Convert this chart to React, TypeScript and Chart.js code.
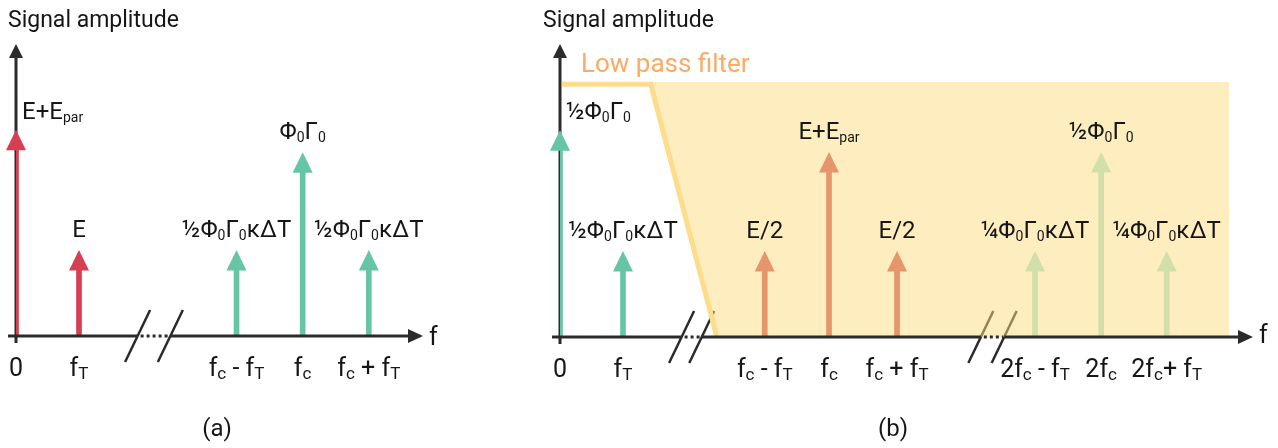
import React, { useEffect, useRef } from "react";
import { Chart, registerables } from "chart.js";

Chart.register(...registerables);

const FONT = "Roboto, 'Noto Sans', sans-serif";
const AXIS = "#2b2b2b";
const TEXT = "#161616";
const RED = "#d63f52";
const GREEN = "#66c5a5";
const ORANGE = "#e5966a";
const PALE = "#d3dfaa";
const FILTER_LINE = "#fddc8c";
const FILTER_FILL = "rgba(251,219,127,0.5)";
const FILTER_TEXT = "#fcaa66";

// ---------- panel (a) ----------
const aRedFreq = [0, 1];
const aRedAmp = [2.82, 1.0];
const aGreenFreq = [3.5, 4.55, 5.6];
const aGreenAmp = [1.0, 2.48, 1.0];
const aTickFreq = [0, 1, 3.5, 4.55, 5.6];
const aTickLabels = ["0", "f_{T}", "f_{c} - f_{T}", "f_{c}", "f_{c} + f_{T}"];
const aPeakLabels = ["E+E_{par}", "E", "½Φ_{0}Γ_{0}κΔT", "Φ_{0}Γ_{0}", "½Φ_{0}Γ_{0}κΔT"];
const aBreaks = [[1.93, 2.45]];

// ---------- panel (b) ----------
const bGreenFreq = [0, 1];
const bGreenAmp = [2.83, 1.0];
const bOrangeFreq = [3.25, 4.27, 5.35];
const bOrangeAmp = [1.0, 2.5, 1.0];
const bPaleFreq = [7.54, 8.59, 9.63];
const bPaleAmp = [1.0, 2.5, 1.0];
const bTickFreq = [0, 1, 3.25, 4.27, 5.35, 7.54, 8.59, 9.63];
const bTickLabels = ["0", "f_{T}", "f_{c} - f_{T}", "f_{c}", "f_{c} + f_{T}", "2f_{c} - f_{T}", "2f_{c}", "2f_{c}+ f_{T}"];
const bPeakLabels = ["½Φ_{0}Γ_{0}", "½Φ_{0}Γ_{0}κΔT", "E/2", "E+E_{par}", "E/2", "¼Φ_{0}Γ_{0}κΔT", "½Φ_{0}Γ_{0}", "¼Φ_{0}Γ_{0}κΔT"];
const bBreaks = [[1.93, 2.25], [6.68, 7.05]];
const filterLineFreq = [0.03, 1.44, 2.49];
const filterLineAmp = [3.83, 3.83, 0];
const filterFillFreq = [1.44, 2.49, 10.62];
const filterFillAmp = [3.864, 0, 0];
const filterLevel = 3.864;

type Seg = { t: string; sub: boolean; w?: number };

function parseRich(s: string): Seg[] {
  const out: Seg[] = [];
  const re = /_\{([^}]*)\}/g;
  let last = 0;
  let m: RegExpExecArray | null;
  while ((m = re.exec(s))) {
    if (m.index > last) out.push({ t: s.slice(last, m.index), sub: false });
    out.push({ t: m[1], sub: true });
    last = re.lastIndex;
  }
  if (last < s.length) out.push({ t: s.slice(last), sub: false });
  return out;
}

function drawRich(ctx: CanvasRenderingContext2D, s: string, x: number, y: number, align: string, size: number, color: string, subRatio = 0.62) {
  const segs = parseRich(s);
  const sub = Math.round(size * subRatio);
  let w = 0;
  for (const sg of segs) {
    ctx.font = `${sg.sub ? sub : size}px ${FONT}`;
    sg.w = ctx.measureText(sg.t).width;
    w += sg.w;
  }
  let cx = align === "center" ? x - w / 2 : align === "right" ? x - w : x;
  ctx.fillStyle = color;
  ctx.textAlign = "left";
  ctx.textBaseline = "alphabetic";
  for (const sg of segs) {
    ctx.font = `${sg.sub ? sub : size}px ${FONT}`;
    ctx.fillText(sg.t, cx, sg.sub ? y + size * 0.12 : y);
    cx += sg.w || 0;
  }
}

function pts(xs: number[], ys: number[]) {
  return xs.map((x, i) => ({ x, y: ys[i] }));
}

function barSet(label: string, xs: number[], ys: number[], color: string) {
  return {
    type: "bar",
    label,
    data: pts(xs, ys),
    backgroundColor: color,
    borderWidth: 0,
    barThickness: 5,
    grouped: false,
    order: 1,
  };
}

type Panel = {
  name: string;
  width: number;
  padding: { left: number; right: number; top: number; bottom: number };
  xMax: number;
  yMax: number;
  datasets: any[];
  peakFreq: number[];
  peakAmp: number[];
  peakLabels: string[];
  tickFreq: number[];
  tickLabels: string[];
  breaks: number[][];
  titleX: number;
  captionX: number;
  caption: string;
  fLabelBaseline: number;
  extraText?: (ctx: CanvasRenderingContext2D) => void;
};

function makeChart(canvas: HTMLCanvasElement, p: Panel) {
  const plugin = {
    id: "spectrum_" + p.name,
    beforeDatasetsDraw(chart: any) {
      const { ctx, chartArea, scales } = chart;
      const xs = scales.x, ys = scales.y;
      const y0 = ys.getPixelForValue(0);
      const x0 = xs.getPixelForValue(0);
      ctx.save();
      ctx.strokeStyle = AXIS;
      ctx.fillStyle = AXIS;
      ctx.lineWidth = 3;
      // y axis (with tick below axis)
      ctx.beginPath();
      ctx.moveTo(x0, y0 + 7);
      ctx.lineTo(x0, chartArea.top + 12);
      ctx.stroke();
      ctx.beginPath();
      ctx.moveTo(x0, chartArea.top);
      ctx.lineTo(x0 - 7, chartArea.top + 14);
      ctx.lineTo(x0 + 7, chartArea.top + 14);
      ctx.closePath();
      ctx.fill();
      // break slashes
      ctx.lineWidth = 2.5;
      for (const br of p.breaks) {
        for (const b of br) {
          const cx = xs.getPixelForValue(b);
          ctx.beginPath();
          ctx.moveTo(cx - 12.5, y0 + 26);
          ctx.lineTo(cx + 12.5, y0 - 26);
          ctx.stroke();
        }
      }
      ctx.restore();
    },
    afterDatasetsDraw(chart: any) {
      const { ctx, chartArea, scales } = chart;
      const xs = scales.x, ys = scales.y;
      const y0 = ys.getPixelForValue(0);
      const x0 = xs.getPixelForValue(0);
      ctx.save();
      // arrow heads on bars
      chart.data.datasets.forEach((ds: any, i: number) => {
        if (ds.type !== "bar") return;
        const meta = chart.getDatasetMeta(i);
        ctx.fillStyle = ds.backgroundColor;
        meta.data.forEach((el: any) => {
          ctx.beginPath();
          ctx.moveTo(el.x - 10, el.y + 0.5);
          ctx.lineTo(el.x + 10, el.y + 0.5);
          ctx.lineTo(el.x, el.y - 20);
          ctx.closePath();
          ctx.fill();
        });
      });
      // x axis with breaks
      ctx.strokeStyle = AXIS;
      ctx.fillStyle = AXIS;
      ctx.lineWidth = 3;
      const start = x0 - 8;
      const tip = chartArea.right;
      let cur = start;
      for (const br of p.breaks) {
        const b1 = xs.getPixelForValue(br[0]);
        const b2 = xs.getPixelForValue(br[1]);
        ctx.setLineDash([]);
        ctx.beginPath();
        ctx.moveTo(cur, y0);
        ctx.lineTo(b1, y0);
        ctx.stroke();
        ctx.setLineDash([3, 3]);
        ctx.beginPath();
        ctx.moveTo(b1 + 3, y0);
        ctx.lineTo(b2 - 1, y0);
        ctx.stroke();
        cur = b2;
      }
      ctx.setLineDash([]);
      ctx.beginPath();
      ctx.moveTo(cur, y0);
      ctx.lineTo(tip - 12, y0);
      ctx.stroke();
      ctx.beginPath();
      ctx.moveTo(tip, y0);
      ctx.lineTo(tip - 15, y0 - 7);
      ctx.lineTo(tip - 15, y0 + 7);
      ctx.closePath();
      ctx.fill();
      drawRich(ctx, "f", tip + 6, p.fLabelBaseline, "left", 25, TEXT);
      // tick labels
      p.tickFreq.forEach((f, i) => {
        drawRich(ctx, p.tickLabels[i], xs.getPixelForValue(f), y0 + 40, "center", 25, TEXT, 0.66);
      });
      // peak labels
      p.peakFreq.forEach((f, i) => {
        const px = xs.getPixelForValue(f);
        const tipY = ys.getPixelForValue(p.peakAmp[i]) - 20;
        if (f === 0) drawRich(ctx, p.peakLabels[i], px + 6, tipY - 11, "left", 24, TEXT, 0.6);
        else drawRich(ctx, p.peakLabels[i], px, tipY - 13, "center", 24, TEXT, 0.6);
      });
      // titles
      drawRich(ctx, "Signal amplitude", p.titleX, 27, "left", 23, TEXT);
      drawRich(ctx, p.caption, p.captionX, 436, "center", 24, TEXT);
      if (p.extraText) p.extraText(ctx);
      ctx.restore();
    },
  };

  return new Chart(canvas, {
    type: "bar",
    data: { datasets: p.datasets },
    options: {
      responsive: false,
      animation: false,
      events: [],
      layout: { padding: p.padding },
      plugins: { legend: { display: false }, tooltip: { enabled: false } },
      scales: {
        x: { type: "linear", min: 0, max: p.xMax, display: false, offset: false },
        y: { type: "linear", min: 0, max: p.yMax, display: false },
      },
    },
    plugins: [plugin],
  } as any);
}

const panelA: Panel = {
  name: "a",
  width: 470,
  padding: { left: 16, right: 47, top: 44, bottom: 112 },
  xMax: 6.46,
  yMax: 4.42,
  datasets: [
    barSet("red", aRedFreq, aRedAmp, RED),
    barSet("green", aGreenFreq, aGreenAmp, GREEN),
  ],
  peakFreq: [...aRedFreq, ...aGreenFreq],
  peakAmp: [...aRedAmp, ...aGreenAmp],
  peakLabels: aPeakLabels,
  tickFreq: aTickFreq,
  tickLabels: aTickLabels,
  breaks: aBreaks,
  titleX: 8,
  captionX: 217,
  caption: "(a)",
  fLabelBaseline: 345,
};

const panelB: Panel = {
  name: "b",
  width: 808,
  padding: { left: 90, right: 25, top: 44, bottom: 111 },
  xMax: 11.0,
  yMax: 4.44,
  datasets: [
    {
      type: "line",
      label: "filtered",
      data: pts(filterFillFreq, filterFillAmp),
      borderWidth: 0,
      borderColor: "rgba(0,0,0,0)",
      backgroundColor: FILTER_FILL,
      fill: { value: filterLevel },
      pointRadius: 0,
      tension: 0,
      order: 3,
    },
    {
      type: "line",
      label: "Low pass filter",
      data: pts(filterLineFreq, filterLineAmp),
      borderWidth: 5,
      borderColor: FILTER_LINE,
      fill: false,
      pointRadius: 0,
      tension: 0,
      clip: false,
      order: 2,
    },
    barSet("green", bGreenFreq, bGreenAmp, GREEN),
    barSet("orange", bOrangeFreq, bOrangeAmp, ORANGE),
    barSet("pale", bPaleFreq, bPaleAmp, PALE),
  ],
  peakFreq: [...bGreenFreq, ...bOrangeFreq, ...bPaleFreq],
  peakAmp: [...bGreenAmp, ...bOrangeAmp, ...bPaleAmp],
  peakLabels: bPeakLabels,
  tickFreq: bTickFreq,
  tickLabels: bTickLabels,
  breaks: bBreaks,
  titleX: 73,
  captionX: 423,
  caption: "(b)",
  fLabelBaseline: 343,
  extraText: (ctx) => drawRich(ctx, "Low pass filter", 111, 72, "left", 26, FILTER_TEXT),
};

export default function App() {
  const refA = useRef<HTMLCanvasElement | null>(null);
  const refB = useRef<HTMLCanvasElement | null>(null);

  useEffect(() => {
    let charts: Chart[] = [];
    let cancelled = false;
    const build = () => {
      if (cancelled || !refA.current || !refB.current) return;
      charts = [makeChart(refA.current, panelA), makeChart(refB.current, panelB)];
    };
    const fonts: any = (document as any).fonts;
    if (fonts && fonts.load) {
      Promise.all([fonts.load(`22px Roboto`), fonts.load(`14px Roboto`)]).then(build, build);
    } else build();
    return () => {
      cancelled = true;
      charts.forEach((c) => c.destroy());
    };
  }, []);

  return (
    <div style={{ position: "absolute", left: 0, top: 0, width: 1278, height: 448, background: "#fff" }}>
      <canvas ref={refA} width={470} height={448} style={{ position: "absolute", left: 0, top: 0, width: 470, height: 448 }} />
      <canvas ref={refB} width={808} height={448} style={{ position: "absolute", left: 470, top: 0, width: 808, height: 448 }} />
    </div>
  );
}
